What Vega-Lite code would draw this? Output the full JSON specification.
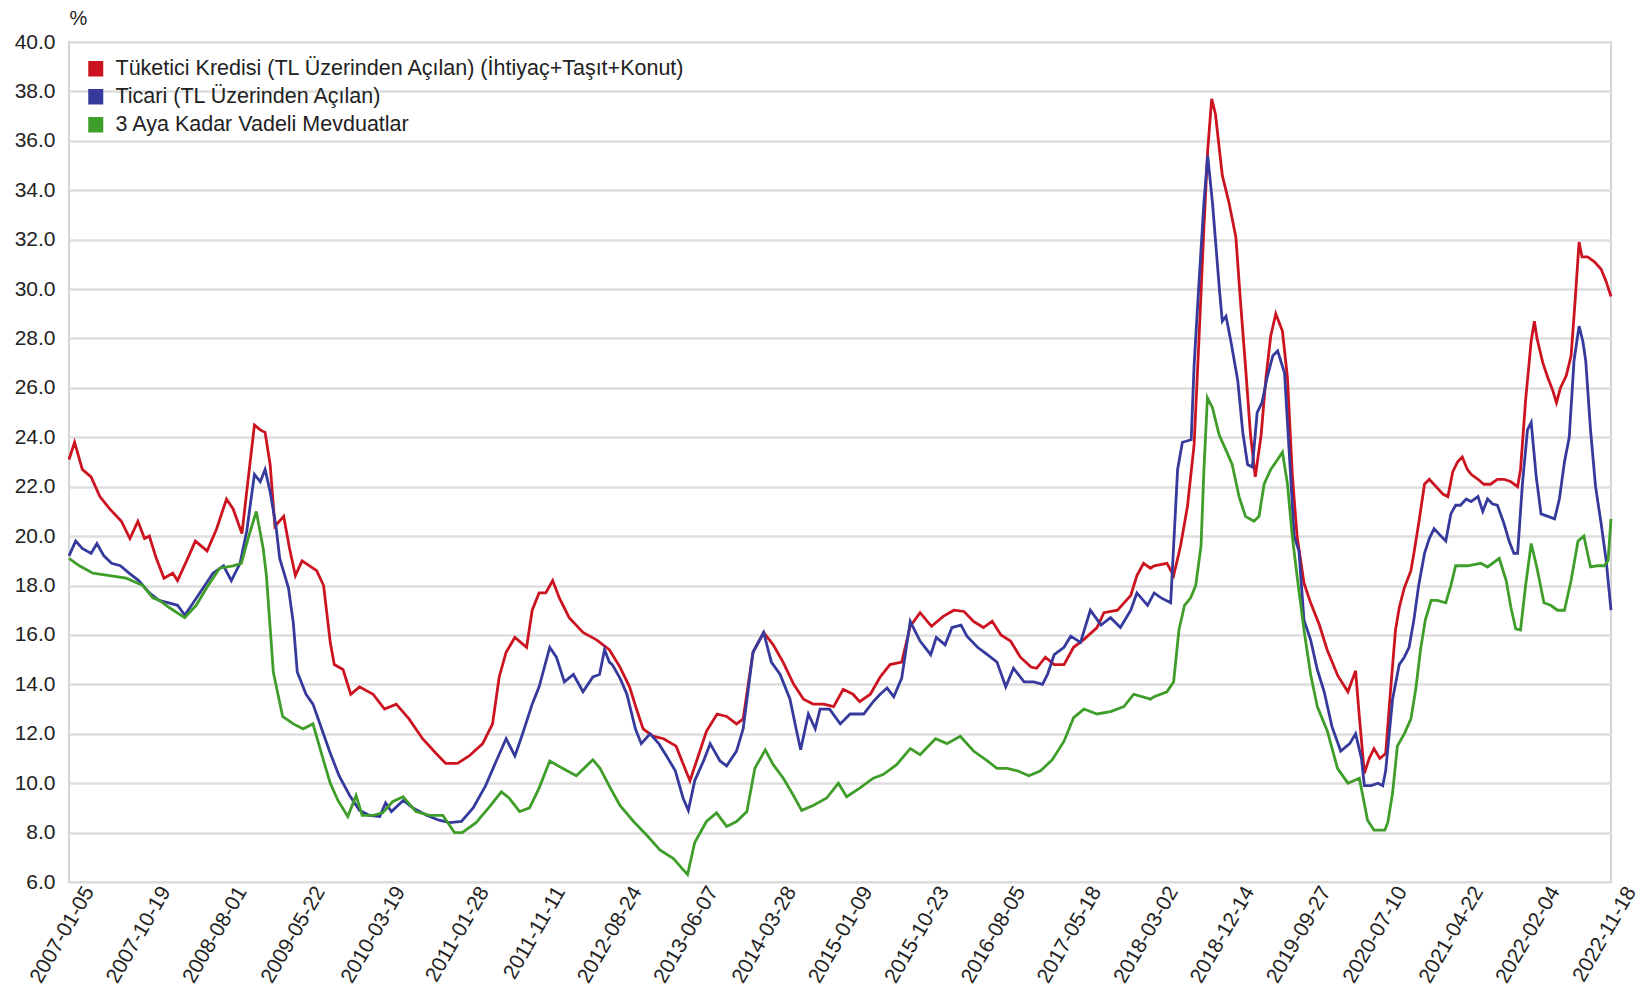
{
  "$schema": "https://vega.github.io/schema/vega-lite/v6.json",
  "width": 1542,
  "height": 840,
  "autosize": {"type": "none"},
  "padding": {"left": 69, "top": 42, "right": 39, "bottom": 117},
  "background": "white",
  "datasets": {
    "r": [
      {"d": "2007-01-05", "v": 23.1}, {"d": "2007-01-26", "v": 23.8}, {"d": "2007-02-24", "v": 22.7}, {"d": "2007-03-29", "v": 22.4},
      {"d": "2007-05-01", "v": 21.6}, {"d": "2007-06-07", "v": 21.1}, {"d": "2007-07-21", "v": 20.6}, {"d": "2007-08-22", "v": 19.9},
      {"d": "2007-09-21", "v": 20.6}, {"d": "2007-10-16", "v": 19.9}, {"d": "2007-11-03", "v": 20.0}, {"d": "2007-11-29", "v": 19.1},
      {"d": "2007-12-28", "v": 18.3}, {"d": "2008-01-30", "v": 18.5}, {"d": "2008-02-17", "v": 18.2}, {"d": "2008-03-22", "v": 19.0},
      {"d": "2008-04-24", "v": 19.8}, {"d": "2008-06-07", "v": 19.4}, {"d": "2008-07-13", "v": 20.3}, {"d": "2008-08-19", "v": 21.5},
      {"d": "2008-09-13", "v": 21.1}, {"d": "2008-10-16", "v": 20.1}, {"d": "2008-11-03", "v": 21.8}, {"d": "2008-12-02", "v": 24.5},
      {"d": "2008-12-24", "v": 24.3}, {"d": "2009-01-11", "v": 24.2}, {"d": "2009-01-30", "v": 22.9}, {"d": "2009-02-17", "v": 20.4},
      {"d": "2009-03-22", "v": 20.8}, {"d": "2009-04-13", "v": 19.5}, {"d": "2009-05-05", "v": 18.4}, {"d": "2009-05-30", "v": 19.0},
      {"d": "2009-07-24", "v": 18.6}, {"d": "2009-08-19", "v": 18.0}, {"d": "2009-09-13", "v": 15.7}, {"d": "2009-09-28", "v": 14.8},
      {"d": "2009-10-31", "v": 14.6}, {"d": "2009-11-29", "v": 13.6}, {"d": "2010-01-01", "v": 13.9}, {"d": "2010-02-21", "v": 13.6},
      {"d": "2010-04-05", "v": 13.0}, {"d": "2010-05-19", "v": 13.2}, {"d": "2010-07-06", "v": 12.6}, {"d": "2010-08-26", "v": 11.8},
      {"d": "2010-10-16", "v": 11.2}, {"d": "2010-11-21", "v": 10.8}, {"d": "2011-01-04", "v": 10.8}, {"d": "2011-02-17", "v": 11.1},
      {"d": "2011-04-09", "v": 11.6}, {"d": "2011-05-16", "v": 12.4}, {"d": "2011-06-10", "v": 14.3}, {"d": "2011-07-06", "v": 15.3},
      {"d": "2011-08-08", "v": 15.9}, {"d": "2011-09-21", "v": 15.5}, {"d": "2011-10-12", "v": 17.0}, {"d": "2011-11-07", "v": 17.7},
      {"d": "2011-12-02", "v": 17.7}, {"d": "2011-12-28", "v": 18.2}, {"d": "2012-01-22", "v": 17.5}, {"d": "2012-02-28", "v": 16.7},
      {"d": "2012-04-20", "v": 16.1}, {"d": "2012-06-10", "v": 15.8}, {"d": "2012-07-28", "v": 15.4}, {"d": "2012-09-06", "v": 14.7},
      {"d": "2012-10-12", "v": 13.9}, {"d": "2012-11-07", "v": 13.0}, {"d": "2012-12-02", "v": 12.2}, {"d": "2013-01-08", "v": 11.9},
      {"d": "2013-02-17", "v": 11.8}, {"d": "2013-04-05", "v": 11.5}, {"d": "2013-05-08", "v": 10.6}, {"d": "2013-05-27", "v": 10.1},
      {"d": "2013-06-21", "v": 10.9}, {"d": "2013-07-28", "v": 12.1}, {"d": "2013-09-06", "v": 12.8}, {"d": "2013-10-12", "v": 12.7},
      {"d": "2013-11-18", "v": 12.4}, {"d": "2013-12-13", "v": 12.6}, {"d": "2014-01-19", "v": 15.3}, {"d": "2014-02-28", "v": 16.1},
      {"d": "2014-04-05", "v": 15.6}, {"d": "2014-05-12", "v": 14.9}, {"d": "2014-06-21", "v": 14.0}, {"d": "2014-07-28", "v": 13.4},
      {"d": "2014-09-02", "v": 13.2}, {"d": "2014-10-12", "v": 13.2}, {"d": "2014-11-18", "v": 13.1}, {"d": "2014-12-24", "v": 13.8},
      {"d": "2015-01-30", "v": 13.6}, {"d": "2015-02-24", "v": 13.3}, {"d": "2015-04-05", "v": 13.6}, {"d": "2015-05-12", "v": 14.3},
      {"d": "2015-06-18", "v": 14.8}, {"d": "2015-08-01", "v": 14.9}, {"d": "2015-09-02", "v": 16.35}, {"d": "2015-10-09", "v": 16.9},
      {"d": "2015-11-21", "v": 16.35}, {"d": "2016-01-04", "v": 16.75}, {"d": "2016-02-13", "v": 17.0}, {"d": "2016-03-22", "v": 16.95},
      {"d": "2016-04-27", "v": 16.55}, {"d": "2016-06-03", "v": 16.3}, {"d": "2016-07-06", "v": 16.55}, {"d": "2016-08-08", "v": 16.0},
      {"d": "2016-09-13", "v": 15.75}, {"d": "2016-10-20", "v": 15.1}, {"d": "2016-11-29", "v": 14.7}, {"d": "2016-12-20", "v": 14.65},
      {"d": "2017-01-22", "v": 15.1}, {"d": "2017-02-24", "v": 14.8}, {"d": "2017-04-02", "v": 14.8}, {"d": "2017-05-08", "v": 15.5},
      {"d": "2017-06-14", "v": 15.8}, {"d": "2017-08-04", "v": 16.3}, {"d": "2017-08-30", "v": 16.9}, {"d": "2017-10-20", "v": 17.0},
      {"d": "2017-12-09", "v": 17.6}, {"d": "2018-01-01", "v": 18.4}, {"d": "2018-01-26", "v": 18.9}, {"d": "2018-02-21", "v": 18.7},
      {"d": "2018-03-07", "v": 18.8}, {"d": "2018-04-24", "v": 18.9}, {"d": "2018-05-19", "v": 18.4}, {"d": "2018-06-14", "v": 19.6},
      {"d": "2018-07-10", "v": 21.2}, {"d": "2018-08-04", "v": 23.7}, {"d": "2018-08-22", "v": 27.9}, {"d": "2018-09-10", "v": 32.5},
      {"d": "2018-09-24", "v": 35.6}, {"d": "2018-10-09", "v": 37.7}, {"d": "2018-10-23", "v": 37.1}, {"d": "2018-11-18", "v": 34.6},
      {"d": "2018-12-13", "v": 33.5}, {"d": "2019-01-08", "v": 32.1}, {"d": "2019-01-26", "v": 29.4}, {"d": "2019-02-13", "v": 26.9},
      {"d": "2019-03-04", "v": 24.1}, {"d": "2019-03-22", "v": 22.4}, {"d": "2019-04-13", "v": 24.1}, {"d": "2019-05-01", "v": 26.4},
      {"d": "2019-05-19", "v": 28.1}, {"d": "2019-06-07", "v": 29.0}, {"d": "2019-07-02", "v": 28.3}, {"d": "2019-07-21", "v": 26.4},
      {"d": "2019-08-08", "v": 22.5}, {"d": "2019-08-26", "v": 20.0}, {"d": "2019-09-21", "v": 18.1}, {"d": "2019-10-16", "v": 17.3},
      {"d": "2019-11-18", "v": 16.4}, {"d": "2019-12-17", "v": 15.4}, {"d": "2020-01-26", "v": 14.35}, {"d": "2020-03-04", "v": 13.7},
      {"d": "2020-04-02", "v": 14.55}, {"d": "2020-04-16", "v": 12.7}, {"d": "2020-05-05", "v": 10.4}, {"d": "2020-05-23", "v": 11.0},
      {"d": "2020-06-10", "v": 11.4}, {"d": "2020-07-02", "v": 11.0}, {"d": "2020-07-24", "v": 11.2}, {"d": "2020-08-11", "v": 13.7},
      {"d": "2020-08-30", "v": 16.2}, {"d": "2020-09-13", "v": 17.1}, {"d": "2020-10-02", "v": 17.9}, {"d": "2020-10-27", "v": 18.6},
      {"d": "2020-11-07", "v": 19.3}, {"d": "2020-11-25", "v": 20.5}, {"d": "2020-12-17", "v": 22.1}, {"d": "2021-01-04", "v": 22.3},
      {"d": "2021-01-30", "v": 22.0}, {"d": "2021-02-24", "v": 21.7}, {"d": "2021-03-15", "v": 21.6}, {"d": "2021-04-02", "v": 22.6},
      {"d": "2021-04-20", "v": 23.0}, {"d": "2021-05-08", "v": 23.2}, {"d": "2021-05-27", "v": 22.7}, {"d": "2021-06-10", "v": 22.5},
      {"d": "2021-07-06", "v": 22.3}, {"d": "2021-07-28", "v": 22.1}, {"d": "2021-08-22", "v": 22.1}, {"d": "2021-09-17", "v": 22.3},
      {"d": "2021-10-12", "v": 22.3}, {"d": "2021-11-07", "v": 22.2}, {"d": "2021-12-02", "v": 22.0}, {"d": "2021-12-13", "v": 22.7},
      {"d": "2022-01-01", "v": 25.5}, {"d": "2022-01-22", "v": 27.9}, {"d": "2022-02-03", "v": 28.7}, {"d": "2022-02-13", "v": 28.0},
      {"d": "2022-03-07", "v": 27.0}, {"d": "2022-03-26", "v": 26.4}, {"d": "2022-04-13", "v": 25.9}, {"d": "2022-04-27", "v": 25.4},
      {"d": "2022-05-12", "v": 26.0}, {"d": "2022-06-03", "v": 26.5}, {"d": "2022-06-21", "v": 27.3}, {"d": "2022-07-06", "v": 29.5},
      {"d": "2022-07-21", "v": 31.9}, {"d": "2022-08-01", "v": 31.3}, {"d": "2022-08-22", "v": 31.3}, {"d": "2022-09-17", "v": 31.1},
      {"d": "2022-10-12", "v": 30.8}, {"d": "2022-10-31", "v": 30.3}, {"d": "2022-11-18", "v": 29.7}
    ],
    "b": [
      {"d": "2007-01-05", "v": 19.2}, {"d": "2007-01-30", "v": 19.8}, {"d": "2007-02-24", "v": 19.5}, {"d": "2007-03-29", "v": 19.3},
      {"d": "2007-04-20", "v": 19.7}, {"d": "2007-05-16", "v": 19.2}, {"d": "2007-06-14", "v": 18.9}, {"d": "2007-07-17", "v": 18.8},
      {"d": "2007-08-19", "v": 18.5}, {"d": "2007-09-24", "v": 18.2}, {"d": "2007-11-03", "v": 17.7}, {"d": "2007-12-09", "v": 17.4},
      {"d": "2008-01-15", "v": 17.3}, {"d": "2008-02-17", "v": 17.2}, {"d": "2008-03-15", "v": 16.8}, {"d": "2008-04-16", "v": 17.3},
      {"d": "2008-05-23", "v": 17.9}, {"d": "2008-06-29", "v": 18.5}, {"d": "2008-08-08", "v": 18.8}, {"d": "2008-09-06", "v": 18.2},
      {"d": "2008-10-09", "v": 18.9}, {"d": "2008-11-03", "v": 20.2}, {"d": "2008-12-02", "v": 22.5}, {"d": "2008-12-24", "v": 22.2},
      {"d": "2009-01-11", "v": 22.7}, {"d": "2009-01-30", "v": 21.8}, {"d": "2009-02-21", "v": 20.4}, {"d": "2009-03-07", "v": 19.1},
      {"d": "2009-04-09", "v": 17.9}, {"d": "2009-04-27", "v": 16.5}, {"d": "2009-05-12", "v": 14.5}, {"d": "2009-06-14", "v": 13.6},
      {"d": "2009-07-10", "v": 13.2}, {"d": "2009-08-15", "v": 12.1}, {"d": "2009-09-10", "v": 11.3}, {"d": "2009-10-16", "v": 10.3},
      {"d": "2009-11-25", "v": 9.5}, {"d": "2010-01-01", "v": 8.9}, {"d": "2010-02-06", "v": 8.7}, {"d": "2010-03-18", "v": 8.65},
      {"d": "2010-04-09", "v": 9.2}, {"d": "2010-05-01", "v": 8.85}, {"d": "2010-06-14", "v": 9.3}, {"d": "2010-07-21", "v": 9.0},
      {"d": "2010-09-10", "v": 8.7}, {"d": "2010-10-27", "v": 8.5}, {"d": "2010-12-06", "v": 8.4}, {"d": "2011-01-19", "v": 8.45},
      {"d": "2011-03-04", "v": 9.0}, {"d": "2011-04-20", "v": 9.9}, {"d": "2011-05-30", "v": 10.9}, {"d": "2011-07-06", "v": 11.8},
      {"d": "2011-08-08", "v": 11.1}, {"d": "2011-09-06", "v": 12.0}, {"d": "2011-10-12", "v": 13.2}, {"d": "2011-11-07", "v": 13.9},
      {"d": "2011-12-17", "v": 15.5}, {"d": "2012-01-11", "v": 15.1}, {"d": "2012-02-10", "v": 14.1}, {"d": "2012-03-15", "v": 14.4},
      {"d": "2012-04-20", "v": 13.7}, {"d": "2012-05-27", "v": 14.3}, {"d": "2012-06-21", "v": 14.4}, {"d": "2012-07-10", "v": 15.4},
      {"d": "2012-07-28", "v": 14.9}, {"d": "2012-08-08", "v": 14.8}, {"d": "2012-09-06", "v": 14.25}, {"d": "2012-10-02", "v": 13.6},
      {"d": "2012-11-03", "v": 12.2}, {"d": "2012-11-25", "v": 11.6}, {"d": "2012-12-28", "v": 12.0}, {"d": "2013-01-30", "v": 11.6},
      {"d": "2013-02-28", "v": 11.1}, {"d": "2013-04-02", "v": 10.5}, {"d": "2013-05-01", "v": 9.4}, {"d": "2013-05-21", "v": 8.9},
      {"d": "2013-06-14", "v": 10.1}, {"d": "2013-07-17", "v": 10.9}, {"d": "2013-08-11", "v": 11.6}, {"d": "2013-09-17", "v": 10.9},
      {"d": "2013-10-12", "v": 10.7}, {"d": "2013-11-18", "v": 11.3}, {"d": "2013-12-13", "v": 12.2}, {"d": "2014-01-19", "v": 15.3},
      {"d": "2014-02-28", "v": 16.1}, {"d": "2014-03-29", "v": 14.9}, {"d": "2014-05-01", "v": 14.4}, {"d": "2014-06-07", "v": 13.4},
      {"d": "2014-07-02", "v": 12.1}, {"d": "2014-07-17", "v": 11.35}, {"d": "2014-08-15", "v": 12.8}, {"d": "2014-09-10", "v": 12.2},
      {"d": "2014-09-28", "v": 13.0}, {"d": "2014-11-03", "v": 13.0}, {"d": "2014-12-13", "v": 12.4}, {"d": "2015-01-19", "v": 12.8},
      {"d": "2015-03-11", "v": 12.8}, {"d": "2015-04-16", "v": 13.3}, {"d": "2015-05-12", "v": 13.6}, {"d": "2015-06-07", "v": 13.85},
      {"d": "2015-07-02", "v": 13.5}, {"d": "2015-08-01", "v": 14.25}, {"d": "2015-09-02", "v": 16.55}, {"d": "2015-10-09", "v": 15.75},
      {"d": "2015-11-18", "v": 15.2}, {"d": "2015-12-09", "v": 15.9}, {"d": "2016-01-11", "v": 15.6}, {"d": "2016-02-06", "v": 16.3},
      {"d": "2016-03-11", "v": 16.4}, {"d": "2016-04-02", "v": 15.95}, {"d": "2016-05-12", "v": 15.5}, {"d": "2016-06-18", "v": 15.2},
      {"d": "2016-07-24", "v": 14.9}, {"d": "2016-08-26", "v": 13.9}, {"d": "2016-09-24", "v": 14.65}, {"d": "2016-11-03", "v": 14.1},
      {"d": "2016-12-09", "v": 14.1}, {"d": "2017-01-11", "v": 14.0}, {"d": "2017-01-30", "v": 14.4}, {"d": "2017-02-24", "v": 15.2},
      {"d": "2017-04-02", "v": 15.5}, {"d": "2017-04-27", "v": 15.95}, {"d": "2017-06-03", "v": 15.7}, {"d": "2017-07-10", "v": 17.0},
      {"d": "2017-08-19", "v": 16.4}, {"d": "2017-09-24", "v": 16.7}, {"d": "2017-10-31", "v": 16.3}, {"d": "2017-12-09", "v": 17.0},
      {"d": "2018-01-01", "v": 17.7}, {"d": "2018-02-10", "v": 17.2}, {"d": "2018-03-07", "v": 17.7}, {"d": "2018-04-02", "v": 17.5},
      {"d": "2018-05-08", "v": 17.3}, {"d": "2018-05-19", "v": 19.6}, {"d": "2018-06-03", "v": 22.7}, {"d": "2018-06-21", "v": 23.8},
      {"d": "2018-07-24", "v": 23.9}, {"d": "2018-08-04", "v": 26.9}, {"d": "2018-08-22", "v": 30.2}, {"d": "2018-09-10", "v": 33.5},
      {"d": "2018-09-24", "v": 35.4}, {"d": "2018-10-12", "v": 33.5}, {"d": "2018-11-07", "v": 30.0}, {"d": "2018-11-18", "v": 28.7},
      {"d": "2018-12-02", "v": 28.9}, {"d": "2018-12-20", "v": 27.9}, {"d": "2019-01-15", "v": 26.3}, {"d": "2019-02-03", "v": 24.2},
      {"d": "2019-02-21", "v": 22.9}, {"d": "2019-03-11", "v": 22.8}, {"d": "2019-03-29", "v": 25.0}, {"d": "2019-04-16", "v": 25.4},
      {"d": "2019-05-05", "v": 26.4}, {"d": "2019-05-27", "v": 27.3}, {"d": "2019-06-14", "v": 27.5}, {"d": "2019-07-10", "v": 26.6},
      {"d": "2019-07-28", "v": 23.3}, {"d": "2019-08-15", "v": 20.0}, {"d": "2019-09-02", "v": 19.4}, {"d": "2019-09-21", "v": 16.6},
      {"d": "2019-10-16", "v": 15.8}, {"d": "2019-11-10", "v": 14.6}, {"d": "2019-12-06", "v": 13.7}, {"d": "2020-01-04", "v": 12.3},
      {"d": "2020-02-06", "v": 11.3}, {"d": "2020-03-11", "v": 11.6}, {"d": "2020-04-02", "v": 12.0}, {"d": "2020-04-24", "v": 11.0},
      {"d": "2020-05-05", "v": 9.9}, {"d": "2020-05-30", "v": 9.9}, {"d": "2020-06-25", "v": 10.0}, {"d": "2020-07-13", "v": 9.9},
      {"d": "2020-07-24", "v": 10.5}, {"d": "2020-08-19", "v": 13.4}, {"d": "2020-09-13", "v": 14.8}, {"d": "2020-10-02", "v": 15.1},
      {"d": "2020-10-20", "v": 15.5}, {"d": "2020-11-07", "v": 16.6}, {"d": "2020-11-25", "v": 18.0}, {"d": "2020-12-17", "v": 19.3},
      {"d": "2021-01-04", "v": 19.9}, {"d": "2021-01-22", "v": 20.3}, {"d": "2021-02-17", "v": 20.0}, {"d": "2021-03-07", "v": 19.8},
      {"d": "2021-03-26", "v": 20.9}, {"d": "2021-04-13", "v": 21.25}, {"d": "2021-05-01", "v": 21.25}, {"d": "2021-05-23", "v": 21.5},
      {"d": "2021-06-10", "v": 21.4}, {"d": "2021-07-06", "v": 21.6}, {"d": "2021-07-24", "v": 21.0}, {"d": "2021-08-11", "v": 21.5},
      {"d": "2021-08-30", "v": 21.3}, {"d": "2021-09-17", "v": 21.25}, {"d": "2021-10-12", "v": 20.5}, {"d": "2021-10-31", "v": 19.8},
      {"d": "2021-11-18", "v": 19.3}, {"d": "2021-12-02", "v": 19.3}, {"d": "2021-12-20", "v": 22.1}, {"d": "2022-01-08", "v": 24.3},
      {"d": "2022-01-22", "v": 24.6}, {"d": "2022-02-10", "v": 22.4}, {"d": "2022-02-28", "v": 20.9}, {"d": "2022-03-26", "v": 20.8},
      {"d": "2022-04-20", "v": 20.7}, {"d": "2022-05-08", "v": 21.5}, {"d": "2022-05-27", "v": 23.0}, {"d": "2022-06-14", "v": 24.0},
      {"d": "2022-07-02", "v": 27.1}, {"d": "2022-07-21", "v": 28.5}, {"d": "2022-08-04", "v": 27.9}, {"d": "2022-08-15", "v": 27.1},
      {"d": "2022-09-02", "v": 24.3}, {"d": "2022-09-21", "v": 22.0}, {"d": "2022-10-12", "v": 20.5}, {"d": "2022-10-31", "v": 19.0},
      {"d": "2022-11-18", "v": 17.0}
    ],
    "g": [
      {"d": "2007-01-05", "v": 19.1}, {"d": "2007-02-13", "v": 18.8}, {"d": "2007-04-05", "v": 18.5}, {"d": "2007-06-07", "v": 18.4},
      {"d": "2007-08-08", "v": 18.3}, {"d": "2007-10-10", "v": 18.0}, {"d": "2007-11-16", "v": 17.5}, {"d": "2007-12-11", "v": 17.4},
      {"d": "2008-01-18", "v": 17.1}, {"d": "2008-03-15", "v": 16.7}, {"d": "2008-04-27", "v": 17.2}, {"d": "2008-06-05", "v": 17.9},
      {"d": "2008-07-24", "v": 18.7}, {"d": "2008-09-13", "v": 18.8}, {"d": "2008-10-14", "v": 18.9}, {"d": "2008-11-08", "v": 19.9},
      {"d": "2008-12-09", "v": 21.0}, {"d": "2009-01-04", "v": 19.5}, {"d": "2009-01-16", "v": 18.4}, {"d": "2009-02-11", "v": 14.5},
      {"d": "2009-03-18", "v": 12.7}, {"d": "2009-04-27", "v": 12.4}, {"d": "2009-06-03", "v": 12.2}, {"d": "2009-07-10", "v": 12.4},
      {"d": "2009-08-19", "v": 10.9}, {"d": "2009-09-13", "v": 10.0}, {"d": "2009-10-12", "v": 9.3}, {"d": "2009-11-18", "v": 8.65},
      {"d": "2009-12-19", "v": 9.5}, {"d": "2010-01-11", "v": 8.7}, {"d": "2010-02-21", "v": 8.7}, {"d": "2010-03-29", "v": 8.8},
      {"d": "2010-05-05", "v": 9.25}, {"d": "2010-06-14", "v": 9.45}, {"d": "2010-08-01", "v": 8.85}, {"d": "2010-09-21", "v": 8.7},
      {"d": "2010-11-10", "v": 8.7}, {"d": "2010-12-24", "v": 8.0}, {"d": "2011-01-22", "v": 8.0}, {"d": "2011-03-15", "v": 8.4},
      {"d": "2011-05-05", "v": 9.05}, {"d": "2011-06-18", "v": 9.65}, {"d": "2011-07-17", "v": 9.4}, {"d": "2011-08-26", "v": 8.85},
      {"d": "2011-10-02", "v": 9.0}, {"d": "2011-11-07", "v": 9.8}, {"d": "2011-12-17", "v": 10.9}, {"d": "2012-02-03", "v": 10.6},
      {"d": "2012-03-26", "v": 10.3}, {"d": "2012-05-27", "v": 10.95}, {"d": "2012-06-23", "v": 10.6}, {"d": "2012-08-01", "v": 9.8},
      {"d": "2012-09-06", "v": 9.1}, {"d": "2012-10-27", "v": 8.45}, {"d": "2012-12-15", "v": 7.9}, {"d": "2013-02-03", "v": 7.3},
      {"d": "2013-03-26", "v": 6.95}, {"d": "2013-04-27", "v": 6.55}, {"d": "2013-05-18", "v": 6.3}, {"d": "2013-06-14", "v": 7.6},
      {"d": "2013-07-28", "v": 8.45}, {"d": "2013-09-04", "v": 8.8}, {"d": "2013-10-12", "v": 8.25}, {"d": "2013-11-18", "v": 8.45},
      {"d": "2013-12-27", "v": 8.85}, {"d": "2014-01-26", "v": 10.6}, {"d": "2014-03-06", "v": 11.35}, {"d": "2014-04-05", "v": 10.75},
      {"d": "2014-05-13", "v": 10.2}, {"d": "2014-06-20", "v": 9.5}, {"d": "2014-07-21", "v": 8.9}, {"d": "2014-09-02", "v": 9.1},
      {"d": "2014-10-23", "v": 9.4}, {"d": "2014-12-06", "v": 10.0}, {"d": "2015-01-06", "v": 9.45}, {"d": "2015-02-24", "v": 9.8},
      {"d": "2015-04-16", "v": 10.2}, {"d": "2015-05-23", "v": 10.35}, {"d": "2015-07-13", "v": 10.75}, {"d": "2015-09-02", "v": 11.4},
      {"d": "2015-10-09", "v": 11.15}, {"d": "2015-12-06", "v": 11.8}, {"d": "2016-01-18", "v": 11.6}, {"d": "2016-03-08", "v": 11.9},
      {"d": "2016-04-27", "v": 11.3}, {"d": "2016-06-18", "v": 10.9}, {"d": "2016-07-24", "v": 10.6}, {"d": "2016-08-31", "v": 10.6},
      {"d": "2016-10-09", "v": 10.5}, {"d": "2016-11-21", "v": 10.3}, {"d": "2017-01-04", "v": 10.5}, {"d": "2017-02-17", "v": 10.95},
      {"d": "2017-04-02", "v": 11.7}, {"d": "2017-05-08", "v": 12.65}, {"d": "2017-06-16", "v": 13.0}, {"d": "2017-08-04", "v": 12.8},
      {"d": "2017-09-24", "v": 12.9}, {"d": "2017-11-13", "v": 13.1}, {"d": "2017-12-20", "v": 13.6}, {"d": "2018-02-21", "v": 13.4},
      {"d": "2018-03-07", "v": 13.5}, {"d": "2018-04-24", "v": 13.7}, {"d": "2018-05-19", "v": 14.1}, {"d": "2018-06-08", "v": 16.2},
      {"d": "2018-06-29", "v": 17.2}, {"d": "2018-07-22", "v": 17.5}, {"d": "2018-08-10", "v": 18.0}, {"d": "2018-08-30", "v": 19.6},
      {"d": "2018-09-10", "v": 22.7}, {"d": "2018-09-23", "v": 25.6}, {"d": "2018-10-12", "v": 25.2}, {"d": "2018-11-06", "v": 24.1},
      {"d": "2018-12-01", "v": 23.5}, {"d": "2018-12-25", "v": 22.9}, {"d": "2019-01-20", "v": 21.6}, {"d": "2019-02-13", "v": 20.8},
      {"d": "2019-03-17", "v": 20.6}, {"d": "2019-04-05", "v": 20.8}, {"d": "2019-04-24", "v": 22.1}, {"d": "2019-05-19", "v": 22.7},
      {"d": "2019-06-14", "v": 23.1}, {"d": "2019-07-02", "v": 23.4}, {"d": "2019-07-21", "v": 22.1}, {"d": "2019-08-08", "v": 20.0},
      {"d": "2019-08-27", "v": 18.3}, {"d": "2019-09-21", "v": 16.2}, {"d": "2019-10-16", "v": 14.4}, {"d": "2019-11-10", "v": 13.1},
      {"d": "2019-12-18", "v": 12.1}, {"d": "2020-01-25", "v": 10.6}, {"d": "2020-03-04", "v": 10.0}, {"d": "2020-04-16", "v": 10.2},
      {"d": "2020-04-27", "v": 9.6}, {"d": "2020-05-17", "v": 8.5}, {"d": "2020-06-10", "v": 8.1}, {"d": "2020-07-21", "v": 8.1},
      {"d": "2020-08-01", "v": 8.4}, {"d": "2020-08-19", "v": 9.6}, {"d": "2020-09-06", "v": 11.5}, {"d": "2020-10-02", "v": 12.0},
      {"d": "2020-10-27", "v": 12.6}, {"d": "2020-11-14", "v": 13.8}, {"d": "2020-12-02", "v": 15.4}, {"d": "2020-12-20", "v": 16.6},
      {"d": "2021-01-11", "v": 17.4}, {"d": "2021-02-03", "v": 17.4}, {"d": "2021-03-07", "v": 17.3}, {"d": "2021-03-26", "v": 18.0},
      {"d": "2021-04-13", "v": 18.8}, {"d": "2021-05-27", "v": 18.8}, {"d": "2021-07-17", "v": 18.9}, {"d": "2021-08-11", "v": 18.75},
      {"d": "2021-09-24", "v": 19.1}, {"d": "2021-10-20", "v": 18.2}, {"d": "2021-11-07", "v": 17.1}, {"d": "2021-11-25", "v": 16.25},
      {"d": "2021-12-13", "v": 16.2}, {"d": "2022-01-01", "v": 18.0}, {"d": "2022-01-22", "v": 19.7}, {"d": "2022-02-13", "v": 18.7},
      {"d": "2022-03-11", "v": 17.3}, {"d": "2022-04-05", "v": 17.2}, {"d": "2022-05-01", "v": 17.0}, {"d": "2022-05-27", "v": 17.0},
      {"d": "2022-06-21", "v": 18.2}, {"d": "2022-07-17", "v": 19.8}, {"d": "2022-08-08", "v": 20.0}, {"d": "2022-09-02", "v": 18.75},
      {"d": "2022-09-28", "v": 18.8}, {"d": "2022-10-23", "v": 18.8}, {"d": "2022-11-07", "v": 19.0}, {"d": "2022-11-18", "v": 20.7}
    ]
  },
  "encoding": {
    "x": {
      "field": "d",
      "type": "temporal",
      "title": null,
      "scale": {
        "type": "utc",
        "domain": [
          {"year": 2007, "month": 1, "date": 5, "utc": true},
          {"year": 2022, "month": 11, "date": 18, "utc": true}
        ]
      },
      "axis": {
        "values": [
          {"year": 2007, "month": 1, "date": 5, "utc": true},
          {"year": 2007, "month": 10, "date": 19, "utc": true},
          {"year": 2008, "month": 8, "date": 1, "utc": true},
          {"year": 2009, "month": 5, "date": 22, "utc": true},
          {"year": 2010, "month": 3, "date": 19, "utc": true},
          {"year": 2011, "month": 1, "date": 28, "utc": true},
          {"year": 2011, "month": 11, "date": 11, "utc": true},
          {"year": 2012, "month": 8, "date": 24, "utc": true},
          {"year": 2013, "month": 6, "date": 7, "utc": true},
          {"year": 2014, "month": 3, "date": 28, "utc": true},
          {"year": 2015, "month": 1, "date": 9, "utc": true},
          {"year": 2015, "month": 10, "date": 23, "utc": true},
          {"year": 2016, "month": 8, "date": 5, "utc": true},
          {"year": 2017, "month": 5, "date": 18, "utc": true},
          {"year": 2018, "month": 3, "date": 2, "utc": true},
          {"year": 2018, "month": 12, "date": 14, "utc": true},
          {"year": 2019, "month": 9, "date": 27, "utc": true},
          {"year": 2020, "month": 7, "date": 10, "utc": true},
          {"year": 2021, "month": 4, "date": 22, "utc": true},
          {"year": 2022, "month": 2, "date": 4, "utc": true},
          {"year": 2022, "month": 11, "date": 18, "utc": true}
        ],
        "format": "%Y-%m-%d",
        "labelAngle": -60,
        "labelAlign": "right",
        "labelBaseline": "middle",
        "labelOffset": 20,
        "labelPadding": 6,
        "labelOverlap": false,
        "labelBound": false,
        "labelFlush": false,
        "ticks": false,
        "domain": false,
        "grid": false
      }
    },
    "y": {
      "field": "v",
      "type": "quantitative",
      "title": "%",
      "scale": {"domain": [6, 40], "nice": false, "zero": false},
      "axis": {
        "values": [6, 8, 10, 12, 14, 16, 18, 20, 22, 24, 26, 28, 30, 32, 34, 36, 38, 40],
        "format": ".1f",
        "ticks": false,
        "domain": false,
        "labelPadding": 14,
        "labelOverlap": false,
        "labelFlush": false,
        "grid": true,
        "gridColor": "#dedede",
        "gridWidth": 2.5,
        "titleAngle": 0,
        "titleAlign": "left",
        "titleBaseline": "alphabetic",
        "titleX": 0,
        "titleY": -18,
        "titleFontSize": 20,
        "titleFontWeight": "normal",
        "titleColor": "#222222"
      }
    }
  },
  "layer": [
    {
      "data": {"name": "r"},
      "mark": {"type": "line", "strokeWidth": 2.8},
      "encoding": {
        "color": {
          "datum": "Tüketici Kredisi (TL Üzerinden Açılan) (İhtiyaç+Taşıt+Konut)",
          "scale": {
            "domain": ["Tüketici Kredisi (TL Üzerinden Açılan) (İhtiyaç+Taşıt+Konut)", "Ticari (TL Üzerinden Açılan)", "3 Aya Kadar Vadeli Mevduatlar"],
            "range": ["#cc1420", "#353a9c", "#3f9e2a"]
          },
          "legend": {
            "title": null,
            "orient": "none",
            "legendX": 16,
            "legendY": 16,
            "padding": 0,
            "symbolType": "M-1,-0.875H1M-1,-0.625H1M-1,-0.375H1M-1,-0.125H1M-1,0.125H1M-1,0.375H1M-1,0.625H1M-1,0.875H1",
            "symbolSize": 225,
            "symbolStrokeWidth": 2.2,
            "labelFontSize": 21.5,
            "labelColor": "#222222",
            "labelOffset": 9,
            "labelLimit": 1200,
            "rowPadding": 5
          }
        }
      }
    },
    {
      "data": {"name": "b"},
      "mark": {"type": "line", "strokeWidth": 2.8},
      "encoding": {"color": {"datum": "Ticari (TL Üzerinden Açılan)"}}
    },
    {
      "data": {"name": "g"},
      "mark": {"type": "line", "strokeWidth": 2.8},
      "encoding": {"color": {"datum": "3 Aya Kadar Vadeli Mevduatlar"}}
    }
  ],
  "config": {
    "font": "Liberation Sans",
    "view": {"stroke": "#d4d4d4", "strokeWidth": 2},
    "axis": {"labelFont": "Liberation Sans", "labelFontSize": 21, "labelColor": "#222222", "titleFont": "Liberation Sans"},
    "legend": {"labelFont": "Liberation Sans"}
  }
}
